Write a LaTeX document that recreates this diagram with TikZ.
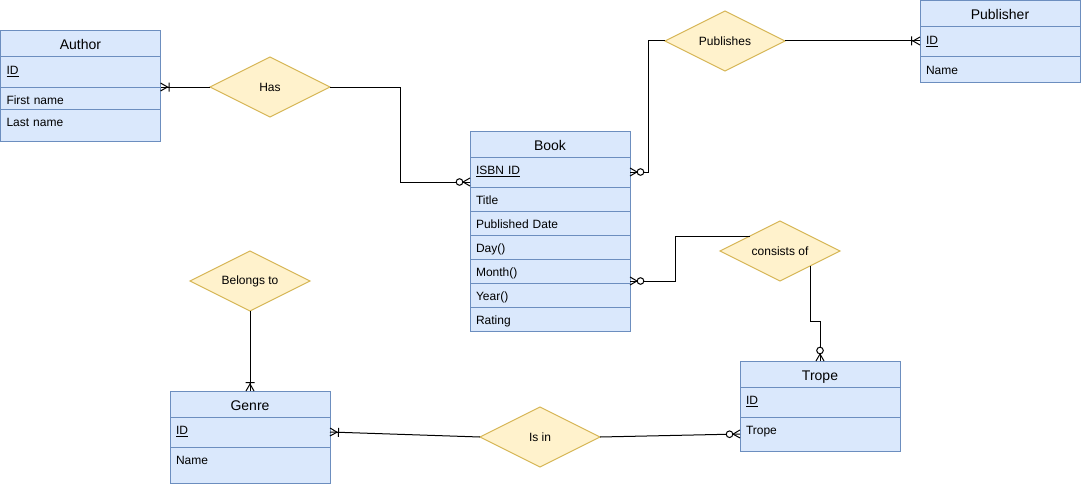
\documentclass[tikz,border=0pt]{standalone}
\usepackage{fontspec}
\setmainfont{Liberation Sans}
\usetikzlibrary{positioning,shapes.geometric}

\definecolor{entityfill}{HTML}{DAE8FC}
\definecolor{entityline}{HTML}{6C8EBF}
\definecolor{relfill}{HTML}{FFF2CC}
\definecolor{relline}{HTML}{D6B656}

% crow's foot: one or many
\pgfdeclarearrow{
  name = onemany,
  setup code = {
    \pgfarrowssettipend{0pt}
    \pgfarrowssetlineend{0pt}
    \pgfarrowssetbackend{-10pt}
    \pgfarrowssetvisualbackend{-10pt}
    \pgfarrowshullpoint{0pt}{5pt}
    \pgfarrowshullpoint{0pt}{-5pt}
    \pgfarrowshullpoint{-10pt}{5pt}
    \pgfarrowshullpoint{-10pt}{-5pt}
  },
  drawing code = {
    \pgfpathmoveto{\pgfqpoint{0pt}{4pt}}
    \pgfpathlineto{\pgfqpoint{-7pt}{0pt}}
    \pgfpathlineto{\pgfqpoint{0pt}{-4pt}}
    \pgfpathmoveto{\pgfqpoint{-8.5pt}{4.5pt}}
    \pgfpathlineto{\pgfqpoint{-8.5pt}{-4.5pt}}
    \pgfusepathqstroke
  }
}
% crow's foot: zero or many
\pgfdeclarearrow{
  name = zeromany,
  setup code = {
    \pgfarrowssettipend{0pt}
    \pgfarrowssetlineend{0pt}
    \pgfarrowssetbackend{-15pt}
    \pgfarrowssetvisualbackend{-15pt}
    \pgfarrowshullpoint{0pt}{5pt}
    \pgfarrowshullpoint{0pt}{-5pt}
    \pgfarrowshullpoint{-15pt}{5pt}
    \pgfarrowshullpoint{-15pt}{-5pt}
  },
  drawing code = {
    \pgfpathmoveto{\pgfqpoint{0pt}{4pt}}
    \pgfpathlineto{\pgfqpoint{-7pt}{0pt}}
    \pgfpathlineto{\pgfqpoint{0pt}{-4pt}}
    \pgfusepathqstroke
    \pgfpathcircle{\pgfqpoint{-10.5pt}{0pt}}{3.3pt}
    \pgfsetfillcolor{white}
    \pgfusepathqfillstroke
  }
}

\tikzset{
  entity/.style={draw=entityline, fill=entityfill, minimum width=160pt,
    inner sep=0pt, outer sep=0pt, text height=19pt, text depth=7pt,
    font=\fontsize{14}{16}\selectfont},
  field/.style={draw=entityline, fill=entityfill, text width=148pt,
    align=left, inner xsep=6pt, inner ysep=0pt, outer sep=0pt,
    text height=17.5pt, text depth=#1, font=\fontsize{12}{14}\selectfont},
  relation/.style={diamond, aspect=2, draw=relline, fill=relfill,
    minimum width=120pt, minimum height=60pt, inner sep=0pt, outer sep=0pt,
    font=\fontsize{12}{14}\selectfont},
  link/.style={draw=black, line width=1pt}
}

\begin{document}
\begin{tikzpicture}[x=1pt, y=-1pt, line width=1pt]
\useasboundingbox (0,0) rectangle (1081,487);

% Author
\node[entity, anchor=north west] (author) at (0.5,31) {Author};
\node[field=12.5pt, below=0pt of author] (author-id) {\underline{ID}};
\node[field=4.5pt, below=0pt of author-id] (author-first) {First name};
\node[field=14.5pt, below=0pt of author-first] (author-last) {Last name};

% Book
\node[entity, anchor=north west] (book) at (470,131) {Book};
\node[field=12.5pt, below=0pt of book] (book-isbn) {\underline{ISBN ID}};
\node[field=6.5pt, below=0pt of book-isbn] (book-title) {Title};
\node[field=6.5pt, below=0pt of book-title] (book-date) {Published Date};
\node[field=6.5pt, below=0pt of book-date] (book-day) {Day()};
\node[field=6.5pt, below=0pt of book-day] (book-month) {Month()};
\node[field=6.5pt, below=0pt of book-month] (book-year) {Year()};
\node[field=6.5pt, below=0pt of book-year] (book-rating) {Rating};

% Publisher
\node[entity, anchor=north west] (publisher) at (920,1) {Publisher};
\node[field=12.5pt, below=0pt of publisher] (publisher-id) {\underline{ID}};
\node[field=7.5pt, below=0pt of publisher-id] (publisher-name) {Name};

% Genre
\node[entity, anchor=north west] (genre) at (170,391) {Genre};
\node[field=12.5pt, below=0pt of genre] (genre-id) {\underline{ID}};
\node[field=18.5pt, below=0pt of genre-id] (genre-name) {Name};

% Trope
\node[entity, anchor=north west] (trope) at (740,361) {Trope};
\node[field=12.5pt, below=0pt of trope] (trope-id) {\underline{ID}};
\node[field=16.5pt, below=0pt of trope-id] (trope-name) {Trope};

% relationships
\node[relation] (has) at (270,87) {Has};
\node[relation] (publishes) at (725,41) {Publishes};
\node[relation] (consists) at (780,251) {consists of};
\node[relation] (belongs) at (250,281) {Belongs to};
\node[relation] (isin) at (540,437) {Is in};

% connectors
\draw[link, -onemany] (has.west) -- (has.west -| author-id.east);
\draw[link, -zeromany] (has.east) -- ++(70,0) |- ([yshift=5pt]book-isbn.south west);
\draw[link, -zeromany] (publishes.west) -- ++(-17,0) |- (book-isbn.east);
\draw[link, -onemany] (publishes.east) -- (publishes.east -| publisher-id.west);
\draw[link, -zeromany] (consists.north west) -- ++(-75,0) |- ([yshift=2pt]book-month.south east);
\draw[link, -zeromany] (consists.south east) -- ++(0,55) -| (trope.north);
\draw[link, -onemany] (belongs.south) -- (genre.north);
\draw[link, -onemany] (isin.west) -- (genre-id.east);
\draw[link, -zeromany] (isin.east) -- (trope-name.west);
\end{tikzpicture}
\end{document}
